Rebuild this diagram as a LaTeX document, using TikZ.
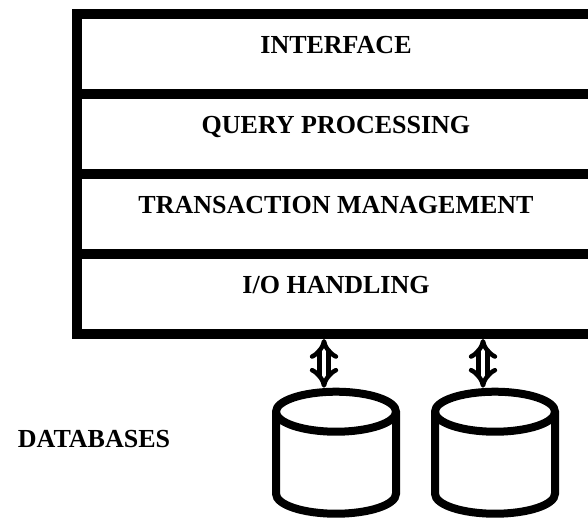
\documentclass[tikz,border=0pt]{standalone}
\usepackage{fontspec}
\setmainfont{Liberation Serif}
\usetikzlibrary{shapes.geometric,arrows.meta}

\begin{document}
\begin{tikzpicture}[x=1pt,y=-1pt,
  layer/.style={rectangle,draw=black,line width=10pt,minimum width=518pt,minimum height=80pt,
    font=\fontsize{26}{30}\selectfont\bfseries,text height=18pt,text depth=19.8pt},
  db/.style={cylinder,shape border rotate=90,aspect=6,draw=black,line width=8pt,
    minimum width=120pt,minimum height=122pt},
  dbarrow/.style={double=white,double distance=4.5pt,line width=4.5pt,{Implies}-{Implies}}]
\useasboundingbox (0,0) rectangle (588,518);
\node [layer] (ui) at (336,54){INTERFACE};
\node [layer] (qp) at (336,134){QUERY PROCESSING};
\node [layer] (tm) at (336,214){TRANSACTION MANAGEMENT};
\node [layer] (io) at (336,294){I/O HANDLING};
\node [db] (db1) at (336,468){};
\node [db] (db2) at (495,468){};
\node [anchor=base,font=\fontsize{26}{30}\selectfont\bfseries] (dbs) at (94,447){DATABASES};
\draw [dbarrow] ([xshift=-12pt]db1.north |- io.south) -- ([xshift=-12pt]db1.north);
\draw [dbarrow] ([xshift=-12pt]db2.north |- io.south) -- ([xshift=-12pt]db2.north);
\end{tikzpicture}
\end{document}
